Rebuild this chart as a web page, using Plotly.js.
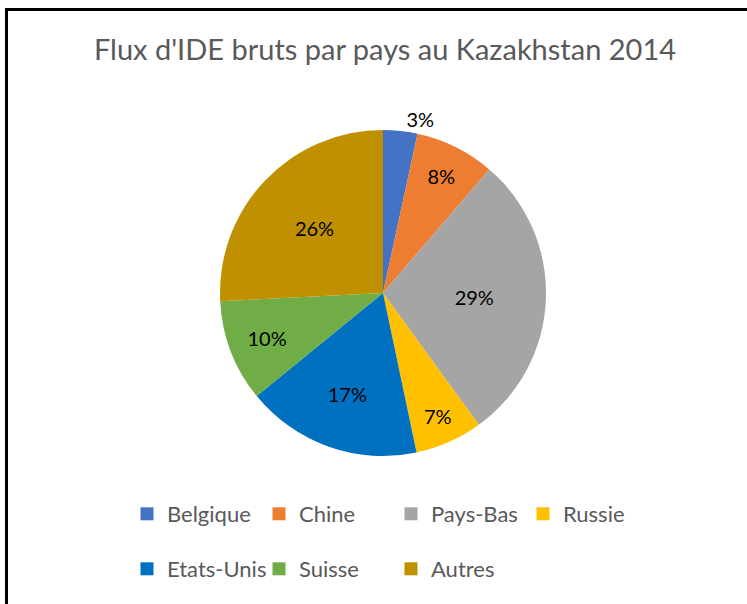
<!DOCTYPE html>
<html>
<head>
<meta charset="utf-8">
<script src="https://cdn.plot.ly/plotly-3.0.1.min.js"></script>
<style>
  html, body { margin: 0; padding: 0; background: #fff; }
  #chart { width: 747px; height: 604px; }
</style>
</head>
<body>
<div id="chart"></div>
<script>
// Data
const countries = ['Belgique', 'Chine', 'Pays-Bas', 'Russie', 'Etats-Unis', 'Suisse', 'Autres'];
const shares = [3.4, 7.9, 28.7, 6.7, 17.4, 10.1, 25.8];
const sliceColors = ['#4472C4', '#ED7D31', '#A5A5A5', '#FFC000', '#0070C0', '#70AD47', '#BF9000'];
const labelPositions = ['outside', 'inside', 'inside', 'inside', 'inside', 'inside', 'inside'];
const row1 = ['Belgique', 'Chine', 'Pays-Bas', 'Russie'];
const row2 = ['Etats-Unis', 'Suisse', 'Autres'];
const titleText = "Flux d'IDE bruts par pays au Kazakhstan 2014";

const W = 747, H = 604;
const cx = 383, cy = 293, R = 163;
const FONT = 'Lato, "Open Sans", sans-serif';

const pie = {
  type: 'pie',
  labels: countries,
  values: shares,
  sort: false,
  direction: 'clockwise',
  rotation: 0,
  marker: { colors: sliceColors, line: { width: 0 } },
  texttemplate: '%{percent:.0%}',
  textposition: labelPositions,
  insidetextorientation: 'horizontal',
  textfont: { family: FONT, size: 20, color: '#000000' },
  outsidetextfont: { family: FONT, size: 20, color: '#000000' },
  hoverinfo: 'label+percent',
  showlegend: false,
  domain: {
    x: [(cx - R) / W, (cx + R) / W],
    y: [1 - (cy + R) / H, 1 - (cy - R) / H]
  }
};

// legend entries (dummy traces with no data points), split in two rows
function legendTrace(name, legendId) {
  const i = countries.indexOf(name);
  return {
    type: 'scatter', mode: 'markers', x: [null], y: [null],
    name: name, legend: legendId,
    marker: { symbol: 'square', size: 13, color: sliceColors[i] },
    hoverinfo: 'skip', showlegend: true
  };
}
const traces = [pie]
  .concat(row1.map(n => legendTrace(n, 'legend')))
  .concat(row2.map(n => legendTrace(n, 'legend2')));

const legendBase = {
  orientation: 'h',
  xanchor: 'left', yanchor: 'middle',
  x: 127 / W,
  entrywidth: 87, entrywidthmode: 'pixels',
  font: { family: FONT, size: 22, color: '#595959' },
  bgcolor: 'rgba(0,0,0,0)',
  itemclick: false, itemdoubleclick: false
};

const layout = {
  width: W, height: H,
  margin: { l: 0, r: 0, t: 0, b: 0 },
  paper_bgcolor: '#ffffff',
  plot_bgcolor: '#ffffff',
  title: {
    text: titleText,
    font: { family: FONT, size: 29, color: '#595959' },
    x: 385 / W, xanchor: 'center',
    y: 1 - 50 / H, yanchor: 'middle'
  },
  xaxis: { visible: false },
  yaxis: { visible: false },
  legend: Object.assign({}, legendBase, { y: 1 - 514 / H }),
  legend2: Object.assign({}, legendBase, { y: 1 - 569 / H }),
  shapes: [
    { type: 'line', xref: 'paper', yref: 'paper', x0: 5 / W, x1: 1.01, y0: 1 - 9.5 / H, y1: 1 - 9.5 / H, line: { color: '#000', width: 3 } },
    { type: 'line', xref: 'paper', yref: 'paper', x0: 6.5 / W, x1: 6.5 / W, y0: 1 - 8 / H, y1: -0.01, line: { color: '#000', width: 3 } }
  ]
};

Plotly.newPlot('chart', traces, layout, { displayModeBar: false, staticPlot: true });
</script>
</body>
</html>
